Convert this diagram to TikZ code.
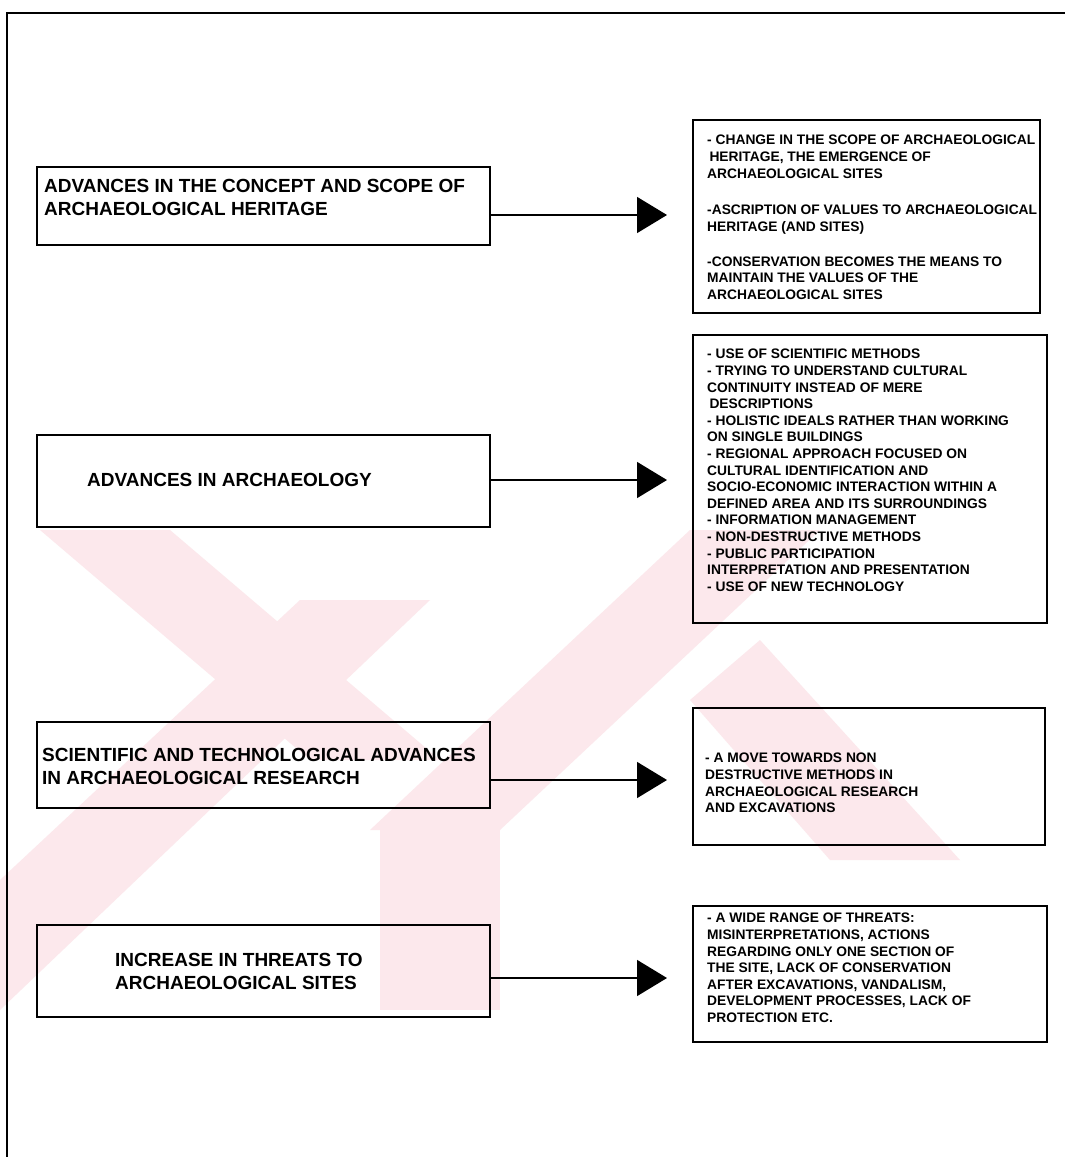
\documentclass[tikz,border=0pt]{standalone}
\usepackage{fontspec}
\setmainfont{Liberation Sans}
\usetikzlibrary{arrows.meta}
\definecolor{wmpink}{RGB}{252,232,236}
\begin{document}
\begin{tikzpicture}[x=1pt,y=-1pt,
  frame/.style={line width=1.4pt,black},
  lbox/.style={draw,line width=2.4pt,rectangle,inner sep=0pt},
  rbox/.style={draw,line width=1.3pt,rectangle,inner sep=0pt},
  ltext/.style={anchor=north west,inner sep=0pt,align=left,
    font=\fontsize{19}{23}\selectfont\bfseries},
  rtext/.style={anchor=north west,inner sep=0pt,align=left,
    font=\fontsize{13.8}{16.6}\selectfont\bfseries},
  conn/.style={line width=1.5pt,-{Triangle[length=30pt,width=36pt]}},
  wm/.style={fill=wmpink,draw=none}
]
\useasboundingbox (0,0) rectangle (1065,1157);
\fill[white] (0,0) rectangle (1065,1157);
% faint watermark
\fill[wm] (40,530) -- (170,530) -- (440,760) -- (310,760) -- cycle;
\fill[wm] (690,530) -- (820,530) -- (500,830) -- (370,830) -- cycle;
\fill[wm] (0,1010) -- (0,880) -- (300,600) -- (430,600) -- cycle;
\fill[wm] (690,700) -- (760,640) -- (960,860) -- (830,860) -- cycle;
\fill[wm] (380,830) -- (500,830) -- (500,1010) -- (380,1010) -- cycle;
% outer frame
\draw[frame] (1065,13) -- (7,13) -- (7,1157);

% left boxes
\node[lbox,minimum width=453pt,minimum height=78pt] (l1) at (263.5,206) {};
\node[lbox,minimum width=453pt,minimum height=92pt] (l2) at (263.5,481) {};
\node[lbox,minimum width=453pt,minimum height=86pt] (l3) at (263.5,765) {};
\node[lbox,minimum width=453pt,minimum height=92pt] (l4) at (263.5,971) {};

% right boxes
\node[rbox,minimum width=347pt,minimum height=193pt] (r1) at (866.5,216.5) {};
\node[rbox,minimum width=354pt,minimum height=288pt] (r2) at (870,479) {};
\node[rbox,minimum width=352pt,minimum height=137pt] (r3) at (869,776.5) {};
\node[rbox,minimum width=354pt,minimum height=136pt] (r4) at (870,974) {};

% left texts
\node[ltext] (l1t) at (44,179.2) {ADVANCES IN THE CONCEPT AND SCOPE OF\\ARCHAEOLOGICAL HERITAGE};
\node[ltext] (l2t) at (87,473.2) {ADVANCES IN ARCHAEOLOGY};
\node[ltext] (l3t) at (42,748.2) {SCIENTIFIC AND TECHNOLOGICAL ADVANCES\\IN ARCHAEOLOGICAL RESEARCH};
\node[ltext] (l4t) at (115,953.2) {INCREASE IN THREATS TO\\ARCHAEOLOGICAL SITES};

% right texts
\node[rtext] (r1t) at (707,135) {- CHANGE IN THE SCOPE OF ARCHAEOLOGICAL\\
\,HERITAGE, THE EMERGENCE OF\\
ARCHAEOLOGICAL SITES\\[20pt]
-ASCRIPTION OF VALUES TO ARCHAEOLOGICAL\\
HERITAGE (AND SITES)\\[18.5pt]
-CONSERVATION BECOMES THE MEANS TO\\
MAINTAIN THE VALUES OF THE\\
ARCHAEOLOGICAL SITES};

\node[rtext] (r2t) at (707,349) {- USE OF SCIENTIFIC METHODS\\
- TRYING TO UNDERSTAND CULTURAL\\
CONTINUITY INSTEAD OF MERE\\
\,DESCRIPTIONS\\
- HOLISTIC IDEALS RATHER THAN WORKING\\
ON SINGLE BUILDINGS\\
- REGIONAL APPROACH FOCUSED ON\\
CULTURAL IDENTIFICATION AND\\
SOCIO-ECONOMIC INTERACTION WITHIN A\\
DEFINED AREA AND ITS SURROUNDINGS\\
- INFORMATION MANAGEMENT\\
- NON-DESTRUCTIVE METHODS\\
- PUBLIC PARTICIPATION\\
INTERPRETATION AND PRESENTATION\\
- USE OF NEW TECHNOLOGY};

\node[rtext] (r3t) at (705,753) {- A MOVE TOWARDS NON\\
DESTRUCTIVE METHODS IN\\
ARCHAEOLOGICAL RESEARCH\\
AND EXCAVATIONS};

\node[rtext] (r4t) at (707,913) {- A WIDE RANGE OF THREATS:\\
MISINTERPRETATIONS, ACTIONS\\
REGARDING ONLY ONE SECTION OF\\
THE SITE, LACK OF CONSERVATION\\
AFTER EXCAVATIONS, VANDALISM,\\
DEVELOPMENT PROCESSES, LACK OF\\
PROTECTION ETC.};

% connectors
\coordinate (a1) at (667,215);
\coordinate (a2) at (667,480);
\coordinate (a3) at (667,780);
\coordinate (a4) at (667,978);
\draw[conn] (l1.east |- a1) -- (a1);
\draw[conn] (l2.east |- a2) -- (a2);
\draw[conn] (l3.east |- a3) -- (a3);
\draw[conn] (l4.east |- a4) -- (a4);
\end{tikzpicture}
\end{document}
